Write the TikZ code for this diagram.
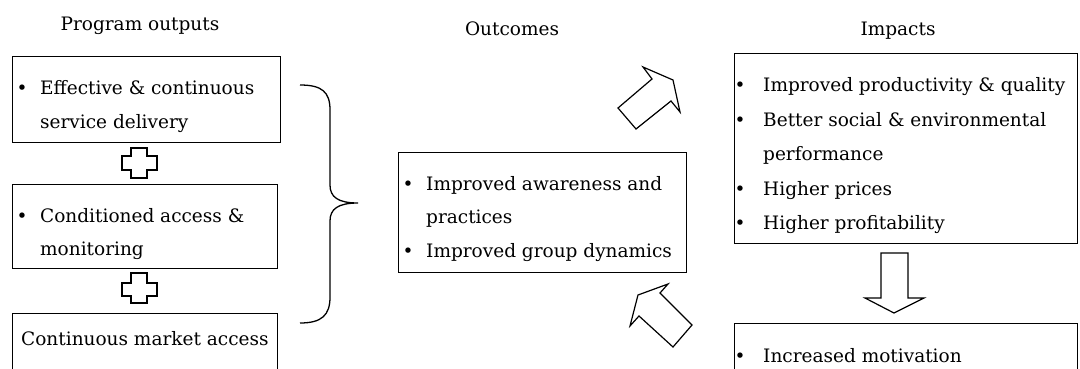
\documentclass[tikz,border=0pt]{standalone}
\usepackage{fontspec}
\setmainfont{DejaVu Serif}
\newlength\bulgap
\setlength\bulgap{18pt}
\newcommand\bul{\makebox[\bulgap][l]{\makebox[0pt]{\textbullet}}}
\newcommand\ind{\hspace*{\bulgap}}
\newcommand\bodyfont{\fontsize{18.5}{33.5}\selectfont}
\newcommand\titlefont{\fontsize{18.5}{20}\selectfont}
\begin{document}
\begin{tikzpicture}[x=1pt,y=-1pt,
  box/.style={draw, line width=1.3pt, inner sep=0pt, anchor=north west},
  txt/.style={inner sep=0pt, anchor=base west, font=\bodyfont},
  ttl/.style={inner sep=0pt, anchor=base, font=\titlefont},
  blk/.style={draw, line width=1.2pt, line join=miter, fill=white}]
\useasboundingbox (0,0) rectangle (1080,369);
\clip (0,0) rectangle (1080,369);
% titles
\node[ttl] (h1) at (140,31) {Program outputs};
\node[ttl] (h2) at (512,36) {Outcomes};
\node[ttl] (h3) at (898,36) {Impacts};
% boxes
\node[box, minimum width=268pt, minimum height=86pt] (b1) at (12,56) {};
\node[box, minimum width=265pt, minimum height=84pt] (b2) at (12,184) {};
\node[box, minimum width=265pt, minimum height=90pt] (b3) at (12,313) {};
\node[box, minimum width=288pt, minimum height=120pt] (bm) at (398,152) {};
\node[box, minimum width=343pt, minimum height=190pt] (br) at (734,53) {};
\node[box, minimum width=343pt, minimum height=80pt] (bb) at (734,323) {};
% texts
\node[txt] (t1) at (22,95) {\begin{tabular}[t]{@{}l@{}}\bul Effective \& continuous\\ \ind service delivery\end{tabular}};
\node[txt] (t2) at (22,222) {\begin{tabular}[t]{@{}l@{}}\bul Conditioned access \&\\ \ind monitoring\end{tabular}};
\node[txt] (t3) at (21,345) {Continuous market access};
\node[txt] (tm) at (408,190) {\begin{tabular}[t]{@{}l@{}}\bul Improved awareness and\\ \ind practices\\ \bul Improved group dynamics\end{tabular}};
\node[txt] (tr) at (740,92) {\fontsize{18.5}{34.5}\selectfont\setlength\bulgap{23pt}\begin{tabular}[t]{@{}l@{}}\bul Improved productivity \& quality\\ \bul Better social \& environmental\\ \ind performance\\ \bul Higher prices\\ \bul Higher profitability\end{tabular}};
\node[txt] (tb) at (740,362) {\setlength\bulgap{23pt}\bul Increased motivation};
% crosses between output boxes
\draw[blk] (131,148) -- (147,148) -- (147,156) -- (157,156) -- (157,170) -- (147,170) -- (147,178) -- (131,178) -- (131,170) -- (122,170) -- (122,156) -- (131,156) -- cycle;
\draw[blk] (131,273) -- (147,273) -- (147,283) -- (157,283) -- (157,296) -- (147,296) -- (147,303) -- (131,303) -- (131,296) -- (122,296) -- (122,283) -- (131,283) -- cycle;
% brace
\draw[line width=1.3pt] (300,85) .. controls (322,85) and (330,92) .. (330,110) -- (330,185) .. controls (330,197) and (338,203) .. (358,203) .. controls (338,203) and (330,209) .. (330,221) -- (330,297) .. controls (330,315) and (322,323) .. (300,323);
% block arrows
\draw[blk] (618,108) -- (636,129) -- (671,101) -- (680,112) -- (673,80) -- (643,67) -- (652,79) -- cycle;
\draw[blk] (630,326) -- (639,316) -- (673,347) -- (692,325) -- (660,293) -- (668,284) -- (638,295) -- cycle;
\draw[blk] (881,253) -- (908,253) -- (908,298) -- (924,298) -- (894,313) -- (865,298) -- (881,298) -- cycle;
\end{tikzpicture}
\end{document}
